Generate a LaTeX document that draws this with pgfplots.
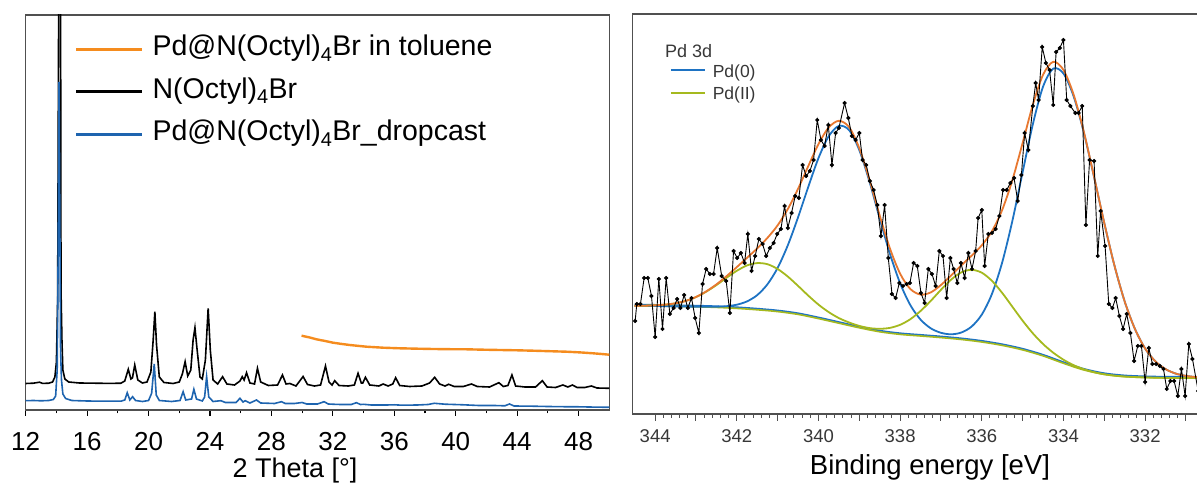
\documentclass[border=0pt]{standalone}
\usepackage{fontspec}
\setmainfont{Liberation Sans}
\usepackage{pgfplots}
\pgfplotsset{compat=1.18}
\definecolor{xorange}{RGB}{245,140,30}
\definecolor{xblue}{RGB}{30,100,175}
\definecolor{pblue}{RGB}{30,115,195}
\definecolor{pgreen}{RGB}{165,185,30}
\definecolor{porange}{RGB}{232,120,48}
\definecolor{framec}{RGB}{80,80,80}
\definecolor{ptext}{RGB}{55,55,55}
\begin{document}
\begin{tikzpicture}
\useasboundingbox (0,0) rectangle (1197pt,484pt);
\clip (0,0) rectangle (1197pt,484pt);
% ---------------- left panel: XRD ----------------
\begin{axis}[
  at={(25.7pt,74pt)}, anchor=south west,
  scale only axis, width=583.6pt, height=395pt,
  xmin=12, xmax=50, ymin=0, ymax=395,
  xtick={12,16,...,48}, minor x tick num=1,
  ytick=\empty,
  xtick pos=left, tick align=outside,
  major tick length=6pt, minor tick length=3.5pt,
  tick style={black, line width=1.2pt},
  axis line style={line width=1.2pt, draw=framec},
  /pgf/number format/assume math mode=true,
  xticklabel style={font=\fontsize{26}{30}\selectfont, anchor=base, yshift=-34.5pt},
  xlabel={2 Theta [°]},
  xlabel style={font=\fontsize{27}{32}\selectfont, at={(axis description cs:0.4615,0)}, anchor=base, yshift=-67.5pt},
  legend style={at={(axis description cs:0,1)}, anchor=north west, xshift=46pt, yshift=-18.7pt,
    draw=none, fill=none, font=\fontsize{28.5}{33}\selectfont, row sep=15.5pt,
    nodes={inner sep=0pt, text height=20pt, text depth=7pt}},
  legend cell align=left,
  legend image code/.code={\draw[#1, line width=3pt] (0pt,0pt) -- (66pt,0pt); \path (75pt,0pt);},
]
\addplot[xorange, line width=2.4pt] coordinates {
(29.96,74.3) (30.5,72.5) (30.93,70.7) (31.5,69) (32.01,67.3) (32.5,66.2) (33.1,65) (33.6,64.2)
(34.19,63.3) (35.27,62.3) (36.36,61.7) (37.5,61.3) (38.53,61) (39.6,60.8) (40.7,60.7) (41.8,60.3)
(42.86,60) (44,59.7) (45.03,59.3) (46.1,58.8) (47.2,58.3) (48.1,57.6) (48.94,56.7) (49.5,56) (50,55.3)};
\addlegendentry{Pd@N(Octyl)\textsubscript{4}Br in toluene}
\addplot[black, line width=1.6pt] coordinates {
(12.0,26.5) (12.5,26.8) (12.9,27.8) (13.1,26.6) (13.5,26.8) (13.75,28) (13.9,33) (14.0,48) (14.08,110)
(14.15,420) (14.2,520) (14.26,520) (14.3,120) (14.36,70) (14.42,40) (14.55,31) (14.8,28) (15.5,27)
(16.5,26.8) (17.5,26.6) (18.2,26.8) (18.45,29) (18.68,40.7) (18.85,31) (18.95,32) (19.1,45) (19.3,30)
(19.6,27) (19.9,28) (20.15,38) (20.3,70) (20.41,98.3) (20.52,65) (20.7,33) (21.0,27.5) (21.6,26.5)
(22.0,28) (22.2,36) (22.38,48.3) (22.55,34) (22.75,40) (22.9,70) (23.02,82.3) (23.15,62) (23.35,33)
(23.5,31) (23.7,50) (23.88,101.7) (24.02,60) (24.2,30) (24.5,26) (24.82,33.3) (25.1,26) (25.6,25)
(25.95,29) (26.1,33.3) (26.22,30) (26.38,37.3) (26.6,27) (26.9,26) (27.09,41.7) (27.3,28) (27.8,24.5)
(28.4,25) (28.72,35) (28.95,26) (29.2,26.5) (29.6,24) (30.06,33.5) (30.35,25.5) (30.8,24) (31.2,25)
(31.52,44) (31.75,28) (31.95,25) (32.12,29.3) (32.4,24.5) (33.0,24) (33.4,25) (33.64,36.7) (33.85,27)
(33.95,27) (34.12,32.7) (34.4,25) (35.0,24) (35.27,26) (35.6,24) (35.9,26) (36.09,32.3) (36.35,24.5)
(37.0,23.5) (37.8,24) (38.3,27) (38.63,32.7) (38.95,26) (39.3,24) (39.54,25.7) (39.9,23.5) (40.5,23.5)
(41.02,26) (41.4,23.5) (42.2,23) (42.81,27.3) (43.1,23.5) (43.4,24.5) (43.66,35) (43.9,24) (44.5,23)
(45.2,23) (45.64,29.3) (45.95,23) (46.5,22.5) (46.98,25) (47.3,23) (47.6,25) (47.9,22.5) (48.4,22.5)
(48.83,24) (49.2,22) (50,21.7)};
\addlegendentry{N(Octyl)\textsubscript{4}Br}
\addplot[xblue, line width=1.6pt] coordinates {
(12.0,9.3) (12.5,9.5) (13.0,9.2) (13.5,9.5) (13.8,10.5) (13.95,14) (14.05,40) (14.11,150) (14.17,328)
(14.22,200) (14.27,60) (14.33,30) (14.42,16) (14.6,11.5) (15.0,9.5) (16,9) (17,8.8) (18.2,8.8)
(18.45,10) (18.61,17.3) (18.78,10) (18.96,13.3) (19.15,9.5) (19.6,8.5) (20.0,9.5) (20.2,16.7)
(20.37,46) (20.5,15) (20.7,9.5) (21.5,8.5) (22.05,9.5) (22.25,18.3) (22.42,10) (22.8,11) (22.95,20.7)
(23.12,11) (23.5,9) (23.65,13) (23.78,33.3) (23.92,13) (24.2,8.5) (24.71,9.3) (25.0,7.5) (25.7,7.5)
(25.95,11.7) (26.15,8) (26.3,9.3) (26.6,7) (27.03,10) (27.3,7) (28.2,6.5) (28.66,8.3) (28.9,6.5)
(29.5,6.5) (30.0,7.5) (30.3,6) (31.0,6) (31.43,8.3) (31.7,6) (32.1,5.7) (32.5,5.5) (33.2,5.5)
(33.53,7.3) (33.8,5.5) (34.0,5.7) (34.5,5) (35.5,5) (36.0,5.2) (36.5,4.8) (37.5,5) (38.2,5.5)
(38.6,6.7) (39.3,5.8) (40.5,5.2) (41.5,4.5) (42.5,4.5) (43.2,4.2) (43.5,6) (43.8,4) (45,3.8) (46,3.5)
(47,3.3) (48,3.2) (49,2.9) (50,2.7)};
\addlegendentry{Pd@N(Octyl)\textsubscript{4}Br\_dropcast}
\end{axis}
% ---------------- right panel: XPS ----------------
\begin{axis}[
  at={(632.7pt,70pt)}, anchor=south west,
  scale only axis, width=566.3pt, height=400pt,
  xmin=330.68, xmax=344.55, ymin=0, ymax=400, x dir=reverse,
  xtick={331,...,344}, xticklabels={,332,,334,,336,,338,,340,,342,,344},
  minor x tick num=4, ytick=\empty,
  xtick pos=left, tick align=outside,
  major tick length=7pt, minor tick length=4pt,
  tick style={framec, line width=1pt},
  axis line style={line width=1.2pt, draw=framec},
  /pgf/number format/assume math mode=true,
  xticklabel style={font=\fontsize{18.5}{22}\selectfont, text=ptext, anchor=base, yshift=-21.8pt},
  xlabel={Binding energy [eV]},
  xlabel style={font=\fontsize{27.5}{32}\selectfont, at={(axis description cs:0.525,0)}, anchor=base, yshift=-61pt},
  legend style={at={(axis description cs:0.06,0.8775)}, anchor=north west,
    draw=none, fill=none, font=\fontsize{17.5}{21}\selectfont, text=ptext, row sep=6.4pt,
    nodes={inner sep=0pt, text height=12pt, text depth=4pt}},
  legend cell align=left,
  legend image code/.code={\draw[#1, line width=2pt] (0pt,3pt) -- (34pt,3pt); \path (41pt,3pt);},
]
% background lines
\addplot[pblue, line width=1.6pt, smooth, forget plot, yshift=1.2pt] coordinates {
(344.5,108) (344,108) (343.5,107.6) (343,107.2) (342.5,106.6) (342,105.6) (341.5,104.2) (341,102.4)
(340.5,99.6) (340,95.4) (339.5,90.8) (339,86.2) (338.5,82.2) (338,79.6) (337.5,78) (337,76.4)
(336.5,74.5) (336,72) (335.5,68.6) (335,64.1) (334.5,58.1) (334,50.7) (333.5,44) (333,39.6)
(332.5,37.4) (332,36.5) (331.5,36.1) (331,36) (330.7,36)};
\addplot[pgreen, line width=1.6pt, smooth, forget plot] coordinates {
(344.5,108) (344,108) (343.5,107.6) (343,107.2) (342.5,106.6) (342,105.6) (341.5,104.2) (341,102.4)
(340.5,99.6) (340,95.4) (339.5,90.8) (339,86.2) (338.5,82.2) (338,79.6) (337.5,78) (337,76.4)
(336.5,74.5) (336,72) (335.5,68.6) (335,64.1) (334.5,58.1) (334,50.7) (333.5,44) (333,39.6)
(332.5,37.4) (332,36.5) (331.5,36.1) (331,36) (330.7,36)};
% Pd(0)
\addplot[pblue, line width=1.8pt, smooth] coordinates {
(344.5,108) (344.25,108) (344,108) (343.75,107.8) (343.5,107.6) (343.25,107.4) (343,107.3)
(342.75,107.3) (342.5,107.3) (342.25,107.8) (342,109.3) (341.75,112.6) (341.5,118.9) (341.25,129.7)
(341,146.1) (340.75,168.8) (340.5,196.7) (340.25,227.1) (340,255.9) (339.75,277.7) (339.5,288.1)
(339.25,283.9) (339,263.9) (338.75,232.2) (338.5,195.5) (338.25,160.2) (338,130.7) (337.75,108.9)
(337.5,94.4) (337.25,85.7) (337,81.2) (336.75,79.7) (336.5,81.5) (336.25,87.4) (336,99.4)
(335.75,120.2) (335.5,151.6) (335.25,193.3) (335,241.8) (334.75,289.7) (334.5,327.3) (334.25,345.4)
(334,340.5) (333.75,317.6) (333.5,281.3) (333.25,236.9) (333,190.9) (332.75,148.3) (332.5,112.5)
(332.25,85.1) (332,65.5) (331.75,52.7) (331.5,44.9) (331.25,40.4) (331,38.1) (330.75,36.9) (330.6,36.6)};
\addlegendentry{Pd(0)}
% Pd(II)
\addplot[pgreen, line width=1.8pt, smooth] coordinates {
(344.5,108.1) (344.25,108.3) (344,108.7) (343.75,109.4) (343.5,110.7) (343.25,113.1) (343,116.9)
(342.75,122.3) (342.5,128.9) (342.25,136.3) (342,143.2) (341.75,148.6) (341.5,150.9) (341.25,149.8)
(341,145) (340.75,137.4) (340.5,128.1) (340.25,118.4) (340,109.4) (339.75,101.9) (339.5,95.9)
(339.25,91.5) (339,88.1) (338.75,85.9) (338.5,85.2) (338.25,86.1) (338,89.2) (337.75,94.8)
(337.5,103) (337.25,113.1) (337,124.2) (336.75,134.4) (336.5,141.7) (336.25,144.2) (336,141.3)
(335.75,133.1) (335.5,121.1) (335.25,107.2) (335,93.3) (334.75,80.7) (334.5,70) (334.25,61.3)
(334,54.3) (333.75,48.8) (333.5,44.8) (333.25,41.8) (333,39.7) (332.75,38.3) (332.5,37.4)
(332.25,36.9) (332,36.5) (331.5,36.1) (331,36) (330.6,36)};
\addlegendentry{Pd(II)}
% envelope
\addplot[porange, line width=1.8pt, smooth, forget plot] coordinates {
(344.5,108.1) (344.25,108.3) (344,108.7) (343.75,109.4) (343.5,110.7) (343.25,113.1) (343,117)
(342.75,122.6) (342.5,129.6) (342.25,137.9) (342,146.9) (341.75,156.2) (341.5,165.6) (341.25,176.1)
(341,188.7) (340.75,205) (340.5,225.2) (340.25,247.9) (340,269.9) (339.75,286.5) (339.5,293.2)
(339.25,286.9) (339,265.8) (338.75,234.1) (338.5,198.5) (338.25,165.6) (338,140.3) (337.75,125)
(337.5,119.4) (337.25,121.6) (337,129) (336.75,138.6) (336.5,148.7) (336.25,158.3) (336,168.7)
(335.75,182.9) (335.5,204.1) (335.25,234) (335,271) (334.75,309.1) (334.5,339.2) (334.25,352.2)
(334,344.1) (333.75,319.3) (333.5,282.1) (333.25,237.2) (333,191) (332.75,148.3) (332.5,112.5)
(332.25,85.1) (332,65.5) (331.75,52.7) (331.5,44.9) (331.25,40.4) (331,38.1) (330.75,36.9) (330.6,36.6)};
% measured data
\addplot[black, line width=0.9pt, mark=*, mark size=1.6pt, forget plot] coordinates {
(344.49,93) (344.45,110) (344.36,110) (344.27,136) (344.18,136) (344.09,118) (344.0,77) (343.91,135)
(343.82,85) (343.73,136) (343.64,100) (343.55,106) (343.46,115) (343.38,106) (343.29,119) (343.2,106)
(343.11,116) (343.02,96) (342.93,81) (342.84,130) (342.75,145) (342.66,140) (342.57,140) (342.48,166)
(342.37,138) (342.26,133) (342.17,101) (342.08,163) (341.99,156) (341.9,161) (341.81,151) (341.73,180)
(341.64,143) (341.55,158) (341.46,175) (341.37,170) (341.28,158) (341.19,166) (341.1,171) (341.01,180)
(340.92,185) (340.83,208) (340.75,186) (340.66,201) (340.57,218) (340.48,216) (340.39,249) (340.3,238)
(340.21,243) (340.12,254) (340.03,294) (339.94,274) (339.85,268) (339.76,289) (339.67,249) (339.58,281)
(339.5,286) (339.36,311) (339.27,296) (339.18,278) (339.09,274) (339.0,281) (338.92,254) (338.83,249)
(338.74,233) (338.65,224) (338.56,209) (338.47,178) (338.38,209) (338.29,156) (338.2,120) (338.11,116)
(338.02,131) (337.93,128) (337.84,130) (337.76,131) (337.67,151) (337.58,148) (337.49,121) (337.4,111)
(337.31,145) (337.22,140) (337.13,128) (337.04,163) (336.95,158) (336.86,116) (336.77,156) (336.69,145)
(336.6,131) (336.51,151) (336.42,136) (336.33,161) (336.24,145) (336.15,163) (336.09,196) (336.0,204)
(335.93,148) (335.84,180) (335.75,181) (335.66,185) (335.57,198) (335.48,224) (335.39,224) (335.3,231)
(335.21,236) (335.12,213) (335.03,239) (334.95,281) (334.86,264) (334.75,308) (334.68,331) (334.61,314)
(334.52,367) (334.43,351) (334.34,344) (334.25,309) (334.18,362) (334.09,366) (334.0,374) (333.92,314)
(333.83,308) (333.71,301) (333.63,301) (333.54,308) (333.45,189) (333.36,254) (333.25,253) (333.16,158)
(333.09,203) (332.98,168) (332.89,110) (332.8,106) (332.72,116) (332.63,98) (332.54,85) (332.45,100)
(332.36,81) (332.27,53) (332.18,68) (332.09,68) (332.0,32) (331.91,66) (331.82,50) (331.73,50)
(331.64,48) (331.55,45) (331.47,25) (331.38,33) (331.29,33) (331.2,18) (331.11,45) (331.02,18)
(330.93,70) (330.84,55) (330.7,23)};
\node[anchor=base west, font=\fontsize{18}{21}\selectfont, text=ptext, inner sep=0pt]
  at (axis description cs:0.057,0.89) {Pd 3d};
\end{axis}
\end{tikzpicture}
\end{document}
